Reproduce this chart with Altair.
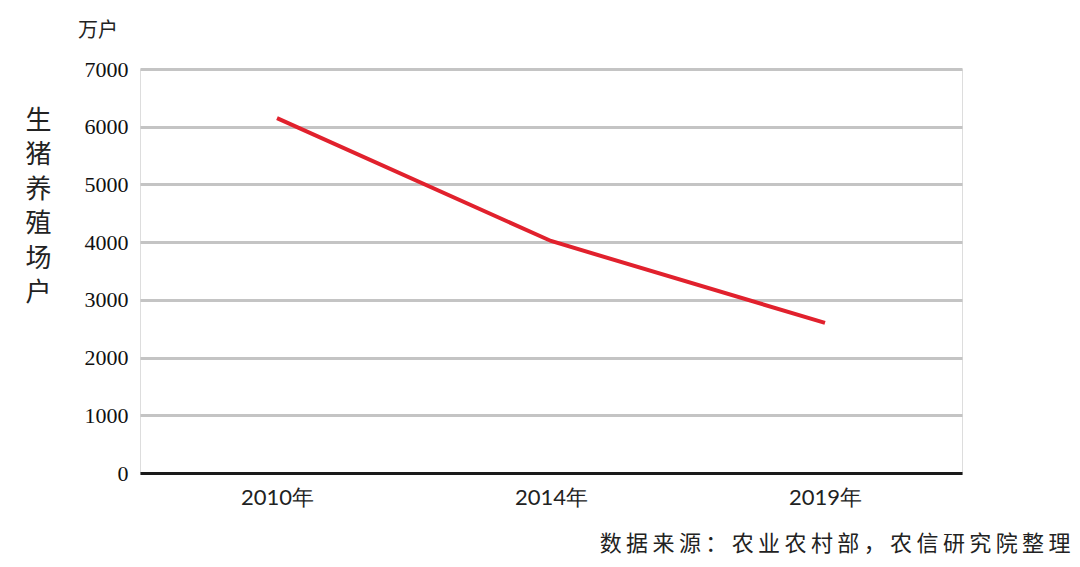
import altair as alt
import pandas as pd

years = ["2010年", "2014年", "2019年"]
households = [6150, 4020, 2600]

df = pd.DataFrame({"year": years, "value": households})

cjk = "Noto Sans CJK SC"
source = "\u2009".join("数据来源：农业农村部，农信研究院整理")

chart = alt.Chart(df).mark_line(color="#e1212d", strokeWidth=4).encode(
    x=alt.X(
        "year:N",
        sort=years,
        scale=alt.Scale(type="point", padding=0.5),
        axis=alt.Axis(
            title=source,
            titleFont=cjk,
            titleFontSize=22,
            titleFontWeight="normal",
            titleColor="#222222",
            titleAlign="right",
            titleBaseline="middle",
            titleX=930,
            titleY=70,
            labelAngle=0,
            labelFont="Lato",
            labelFontSize=22,
            labelColor="#222222",
            labelPadding=14,
            ticks=False,
            domainColor="#1a1a1a",
            domainWidth=3,
            grid=False,
        ),
    ),
    y=alt.Y(
        "value:Q",
        scale=alt.Scale(domain=[0, 7000], nice=False),
        axis=alt.Axis(
            values=[0, 1000, 2000, 3000, 4000, 5000, 6000, 7000],
            format="d",
            title=["生", "猪", "养", "殖", "场", "户"],
            titleFont=cjk,
            titleFontSize=26,
            titleFontWeight="normal",
            titleColor="#222222",
            titleAngle=0,
            titleAlign="center",
            titleBaseline="top",
            titleLineHeight=34.5,
            titleX=-102,
            titleY=38,
            labelFont="Liberation Serif",
            labelFontSize=22,
            labelColor="#111111",
            labelPadding=12,
            ticks=False,
            domain=False,
            grid=True,
            gridColor="#c4c4c4",
            gridWidth=3,
        ),
    ),
).properties(
    width=822,
    height=404,
    autosize=alt.AutoSizeParams(type="none"),
    padding={"left": 132, "top": 61, "right": 110, "bottom": 86},
    title=alt.TitleParams(
        "万户",
        anchor="start",
        frame="group",
        dx=-62,
        offset=17,
        font=cjk,
        fontSize=20,
        fontWeight="normal",
        color="#222222",
    ),
).configure_view(stroke=None).configure(background="white")

chart.save("out.html", embed_options={"renderer": "svg", "actions": False})
